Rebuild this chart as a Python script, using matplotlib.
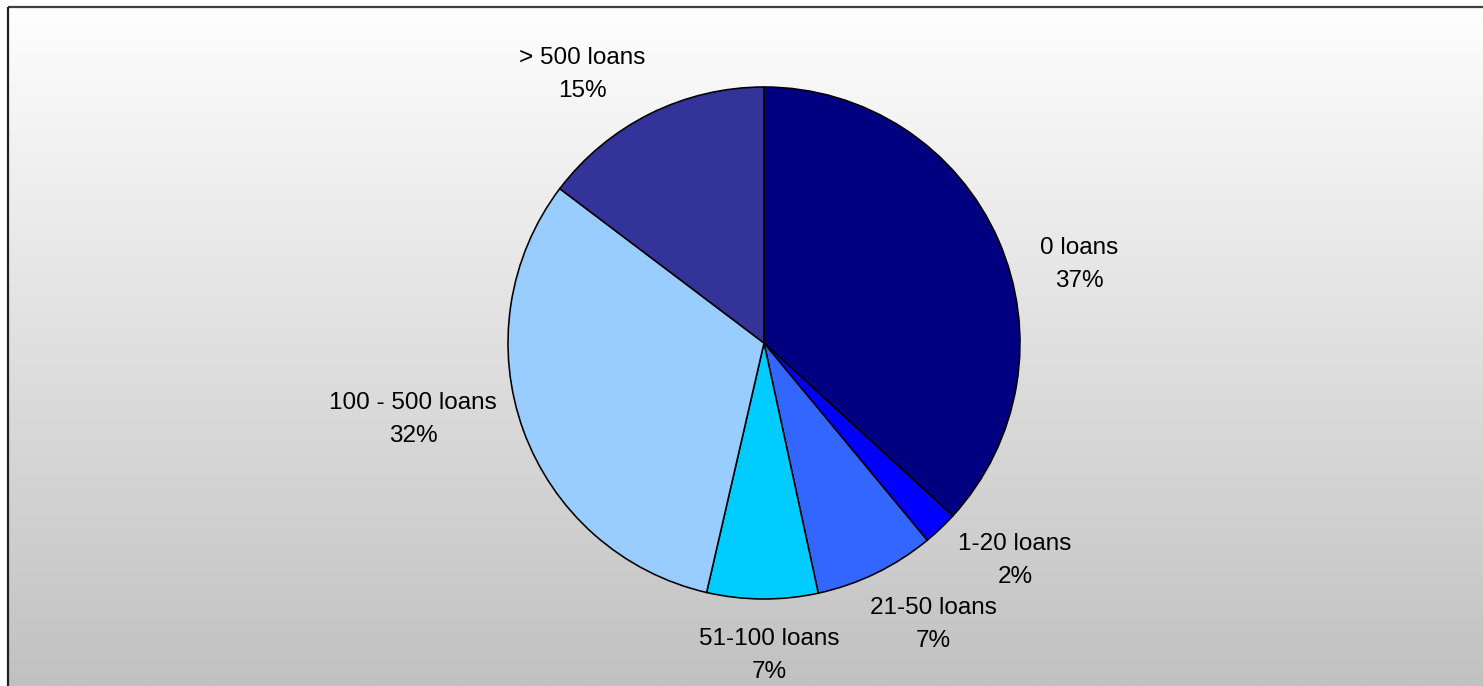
import matplotlib
matplotlib.use("Agg")
import matplotlib.pyplot as plt
import numpy as np

plt.rcParams["font.family"] = ["Liberation Sans", "DejaVu Sans"]

# 데이터 (그림에서 읽은 값, 시계방향으로 12시부터)
categories = ["0 loans", "1-20 loans", "21-50 loans", "51-100 loans", "100 - 500 loans", "> 500 loans"]
shares = [36.8, 2.2, 7.6, 7.0, 31.7, 14.7]
pct_labels = ["37%", "2%", "7%", "7%", "32%", "15%"]

COLORS = ["#000080", "#0000FF", "#3366FF", "#00CCFF", "#99CCFF", "#333399"]
# 라벨 위치 (파이 반지름 단위, 중심 기준) - 엑셀 배치 흉내
LABEL_POS = [(1.23, 0.305), (0.98, -0.85), (0.66, -1.10), (0.02, -1.22), (-1.37, -0.30), (-0.71, 1.05)]

W, H, DPI = 1483, 686, 100
R_PX = 256
CX, CY = 764, 343

fig = plt.figure(figsize=(W / DPI, H / DPI), dpi=DPI)
fig.patch.set_facecolor("white")

# 배경 그라데이션 (위 흰색 -> 아래 회색), 테두리 안쪽만
bg = fig.add_axes([0, 0, 1, 1], zorder=0)
bg.axis("off")
top, left = 7, 8
grad = np.linspace(254, 193, 256)[:, None] / 255.0
bg.imshow(np.dstack([grad, grad, grad]), extent=(left, W, H, top), aspect="auto", interpolation="bilinear")
bg.plot([left, W], [top, top], color="#404040", linewidth=1.6, solid_capstyle="butt")
bg.plot([left, left], [top, H], color="#202020", linewidth=1.6, solid_capstyle="butt")
bg.set_xlim(0, W); bg.set_ylim(H, 0)

ax = fig.add_axes([0, 0, 1, 1], zorder=1)
ax.patch.set_alpha(0)
ax.axis("off")

ax.pie(shares, colors=COLORS, startangle=90, counterclock=False, radius=1.0,
       wedgeprops=dict(edgecolor="black", linewidth=1.15), frame=False)
ax.set_xlim(-CX / R_PX, (W - CX) / R_PX)
ax.set_ylim(-(H - CY) / R_PX, CY / R_PX)
ax.set_aspect("auto")

for name, pct, (lx, ly) in zip(categories, pct_labels, LABEL_POS):
    ax.text(lx, ly, f"{name}\n{pct}", ha="center", va="center", fontsize=17.5,
            color="black", linespacing=1.65)

fig.savefig("out.png", dpi=DPI)
